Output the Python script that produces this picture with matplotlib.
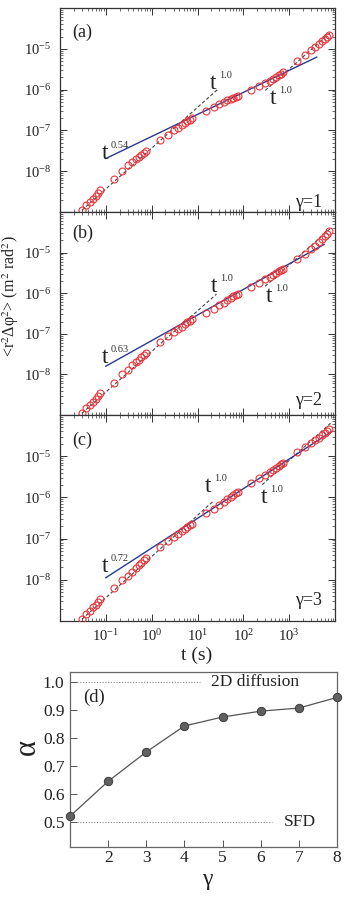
import numpy as np
import matplotlib
matplotlib.use("Agg")
import matplotlib.pyplot as plt
from matplotlib.ticker import LogLocator, NullFormatter, FormatStrFormatter

W, H = 344, 901

# lag times (s), shared by the three MSD panels
t_s = [0.03, 0.0375, 0.045, 0.0525, 0.06, 0.0675, 0.075,
       0.15, 0.225, 0.3, 0.375, 0.45, 0.525, 0.6, 0.675, 0.75,
       1.5, 2.25, 3.0, 3.75, 4.5, 5.25, 6.0, 6.75, 7.5,
       15, 22.5, 30, 37.5, 45, 52.5, 60, 67.5, 75,
       150, 225, 300, 375, 450, 525, 600, 675, 750,
       1500, 2250, 3000, 3750, 4500, 5250, 6000, 6750, 7500]

# <r^2 dphi^2> (m^2 rad^2)
msd_g1 = [1.10e-9, 1.45e-9, 1.78e-9, 2.14e-9, 2.51e-9, 2.95e-9, 3.39e-9,
          6.3e-9, 1.0e-8, 1.41e-8, 1.70e-8, 2.0e-8, 2.29e-8, 2.51e-8, 2.82e-8, 3.09e-8,
          5.9e-8, 7.9e-8, 1.0e-7, 1.17e-7, 1.35e-7, 1.51e-7, 1.66e-7, 1.82e-7, 2.0e-7,
          3.02e-7, 3.72e-7, 4.37e-7, 4.90e-7, 5.50e-7, 5.89e-7, 6.31e-7, 6.76e-7, 7.08e-7,
          9.8e-7, 1.20e-6, 1.45e-6, 1.66e-6, 1.86e-6, 2.09e-6, 2.29e-6, 2.45e-6, 2.69e-6,
          5.0e-6, 7.1e-6, 9.1e-6, 1.12e-5, 1.32e-5, 1.55e-5, 1.78e-5, 2.0e-5, 2.24e-5]
msd_g2 = [1.10e-9, 1.45e-9, 1.78e-9, 2.14e-9, 2.51e-9, 2.95e-9, 3.39e-9,
          6.3e-9, 1.0e-8, 1.32e-8, 1.66e-8, 2.0e-8, 2.29e-8, 2.63e-8, 2.95e-8, 3.31e-8,
          6.3e-8, 8.7e-8, 1.10e-7, 1.32e-7, 1.51e-7, 1.70e-7, 1.91e-7, 2.09e-7, 2.29e-7,
          3.31e-7, 4.17e-7, 5.0e-7, 5.89e-7, 6.76e-7, 7.59e-7, 8.32e-7, 9.12e-7, 9.77e-7,
          1.45e-6, 1.82e-6, 2.19e-6, 2.51e-6, 2.82e-6, 3.16e-6, 3.47e-6, 3.72e-6, 3.98e-6,
          7.1e-6, 9.3e-6, 1.20e-5, 1.48e-5, 1.78e-5, 2.14e-5, 2.51e-5, 2.95e-5, 3.47e-5]
msd_g3 = [1.10e-9, 1.45e-9, 1.78e-9, 2.14e-9, 2.51e-9, 2.95e-9, 3.39e-9,
          6.3e-9, 1.0e-8, 1.26e-8, 1.58e-8, 1.91e-8, 2.24e-8, 2.57e-8, 2.95e-8, 3.31e-8,
          6.3e-8, 8.7e-8, 1.10e-7, 1.32e-7, 1.51e-7, 1.70e-7, 1.91e-7, 2.09e-7, 2.29e-7,
          4.17e-7, 5.25e-7, 6.61e-7, 7.94e-7, 9.12e-7, 1.05e-6, 1.15e-6, 1.26e-6, 1.38e-6,
          2.29e-6, 2.88e-6, 3.47e-6, 4.07e-6, 4.68e-6, 5.25e-6, 5.75e-6, 6.31e-6, 6.92e-6,
          1.26e-5, 1.66e-5, 2.04e-5, 2.45e-5, 2.82e-5, 3.24e-5, 3.63e-5, 4.07e-5, 4.47e-5]

# power-law fits (blue) and t^1 guides (dashed)
fit_exp = [0.54, 0.63, 0.72]
fit_amp = [7.1e-8, 6.8e-8, 5.9e-8]
fit_range = [(0.1, 4000), (0.1, 5800), (0.1, 8500)]
guide1 = [(0.03, 27, 1.1e-9), (0.03, 26, 1.1e-9), (0.03, 23, 1.1e-9)]
guide2 = [(300, 8000, 850, 2.7e-6), (300, 8000, 850, 4.2e-6), (257, 8000, 1000, 7.9e-6)]

# panel (d)
gammas = [1, 2, 3, 4, 5, 6, 7, 8]
alphas = [0.52, 0.645, 0.75, 0.843, 0.875, 0.896, 0.907, 0.945]

plt.rcParams["font.family"] = ["Liberation Serif", "DejaVu Serif"]
plt.rcParams["mathtext.fontset"] = "stix"

fig = plt.figure(figsize=(W / 100, H / 100), dpi=100)


def rect(x0, y0, x1, y1):
    return [x0 / W, 1 - y1 / H, (x1 - x0) / W, (y1 - y0) / H]


def ftext(x, y, s, **kw):
    fig.text(x / W, 1 - y / H, s, **kw)


def power_label(x, y, exp):
    # "t" with a small exponent, placed in pixel coords (baseline of t)
    ftext(x, y, "t", fontsize=17, ha="left", va="baseline", color="#222")
    ftext(x + 9, y - 11, exp, fontsize=7.5, ha="left", va="baseline", color="#333")


panels = [
    (rect(60, 8, 335, 212), msd_g1, "(a)", "γ=1", 37, 207),
    (rect(60, 212, 335, 415), msd_g2, "(b)", "γ=2", 238, 405),
    (rect(60, 415, 335, 621), msd_g3, "(c)", "γ=3", 445, 605),
]

for i, (r, msd, tag, glab, ytag, yglab) in enumerate(panels):
    ax = fig.add_axes(r)
    ax.set_xscale("log")
    ax.set_yscale("log")
    ax.set_xlim(1e-2, 1e4)
    ax.set_ylim(1e-9, 1e-4)

    t0, t1, a1 = guide1[i]
    tt = np.array([t0, t1])
    ax.plot(tt, a1 * tt / t0, ls=(0, (3, 2)), color="#444", lw=0.8, zorder=1)
    t0, t1, tref, yref = guide2[i]
    tt = np.array([t0, t1])
    ax.plot(tt, yref * tt / tref, ls=(0, (3, 2)), color="#444", lw=0.8, zorder=1)

    tf = np.array(fit_range[i])
    ax.plot(tf, fit_amp[i] * tf ** fit_exp[i], color="#2b3990", lw=1.0, zorder=2)

    ax.plot(t_s, msd, "o", mfc="none", mec="#e8363b", ms=5, mew=0.8, zorder=3)

    ax.set_xticks([0.1, 1, 10, 100, 1000])
    ax.set_yticks([1e-8, 1e-7, 1e-6, 1e-5])
    ax.xaxis.set_minor_locator(LogLocator(base=10, subs=np.arange(2, 10), numticks=20))
    ax.yaxis.set_minor_locator(LogLocator(base=10, subs=np.arange(2, 10), numticks=20))
    ax.xaxis.set_minor_formatter(NullFormatter())
    ax.yaxis.set_minor_formatter(NullFormatter())
    ax.tick_params(which="both", direction="in", top=True, right=True,
                   width=0.7, colors="#333", labelsize=10.5, labelcolor="#222")
    ax.tick_params(which="major", length=5)
    ax.tick_params(which="minor", length=2.2, width=0.5)
    ax.tick_params(axis="y", pad=6)
    ax.tick_params(axis="x", pad=5)
    if i < 2:
        ax.tick_params(axis="x", labelbottom=False)
    for s in ax.spines.values():
        s.set_color("#333")
        s.set_linewidth(0.9)

    ftext(72, ytag, tag, fontsize=13, ha="left", va="baseline", color="#222")
    ftext(322, yglab, glab, fontsize=13, ha="right", va="baseline", color="#222")

# exponent labels
power_label(102, 159, "0.54")
power_label(210, 89, "1.0")
power_label(270, 104, "1.0")
power_label(102, 363, "0.63")
power_label(211, 292, "1.0")
power_label(266, 302, "1.0")
power_label(102, 572, "0.72")
power_label(205, 492, "1.0")
power_label(261, 503, "1.0")

ftext(11, 296, r"<r$^2$Δφ$^2$> (m$^2$ rad$^2$)", rotation=90, fontsize=11.5,
      ha="center", va="center", color="#222")
ftext(197, 655, "t (s)", fontsize=14, ha="center", va="center", color="#222")

# panel (d)
axd = fig.add_axes(rect(70, 672, 337, 847))
axd.set_xlim(1, 8)
axd.set_ylim(0.41, 1.036)
axd.hlines(1.0, 1.18, 4.4, linestyles=(0, (1, 1.5)), colors="#888", lw=0.8)
axd.hlines(0.5, 1.18, 6.3, linestyles=(0, (1, 1.5)), colors="#888", lw=0.8)
axd.plot(gammas, alphas, "-o", color="#555", lw=0.9, ms=6, mfc="#606060",
         mec="#3a3a3a", mew=0.7, clip_on=False, zorder=3)
axd.set_xticks([2, 3, 4, 5, 6, 7, 8])
axd.set_yticks([0.5, 0.6, 0.7, 0.8, 0.9, 1.0])
axd.yaxis.set_major_formatter(FormatStrFormatter("%.1f"))
axd.tick_params(direction="in", length=5, width=0.7, colors="#555",
                labelsize=12.5, labelcolor="#222")
axd.tick_params(axis="x", pad=2)
axd.tick_params(axis="y", pad=4)
for s in axd.spines.values():
    s.set_color("#666")
    s.set_linewidth(0.9)

ftext(255, 682, "2D diffusion", fontsize=12.5, ha="center", va="center", color="#222")
ftext(300, 822, "SFD", fontsize=12.5, ha="center", va="center", color="#222")
ftext(83, 697, "(d)", fontsize=13.5, ha="left", va="center", color="#222")
ftext(27, 747, "α", rotation=90, fontsize=22, ha="center", va="center", color="#222")
ftext(207, 880, "γ", fontsize=17, ha="center", va="center", color="#222")

fig.savefig("out.png", dpi=100)
